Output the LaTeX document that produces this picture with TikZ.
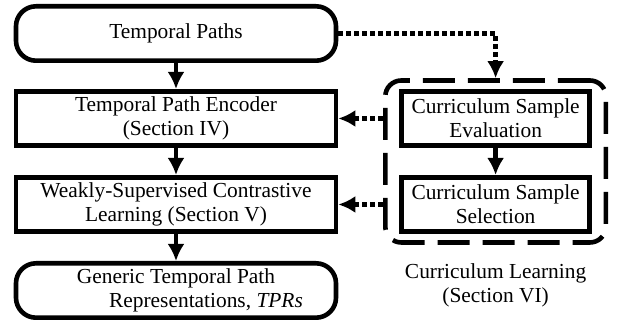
\documentclass[tikz,border=0pt]{standalone}
\usepackage{fontspec}
\setmainfont{Liberation Serif}
\usetikzlibrary{positioning, fit, arrows.meta}

\begin{document}
\begin{tikzpicture}[
                blk/.style={draw, line width=2.3pt, minimum width=160pt, minimum height=27.2pt,
                  align=center, inner sep=1pt, font=\rmfamily\fontsize{10.7}{12}\selectfont},
                rblk/.style={blk, rounded corners=10pt},
                cblk/.style={blk, minimum width=94pt},
                region/.style={draw, line width=2.3pt, dash pattern=on 16pt off 6.5pt,
                  rounded corners=8pt, inner xsep=7pt, inner ysep=4.25pt},
                flow/.style={line width=2.3pt, -{Latex[length=8.5pt,width=8.5pt]}},
                dflow/.style={flow, dash pattern=on 2.5pt off 1.5pt} % short dashes
                ]
                \useasboundingbox (0,0) rectangle (310.5pt,-162pt);
                \node [rblk] (tp) at (88pt,-16.75pt) {Temporal Paths};
                \node [below=13pt of tp, blk] (enc) {Temporal Path Encoder\\(Section IV)};
                \node [below=13.5pt of enc, blk] (wsc) {Weakly-Supervised Contrastive\\Learning (Section V)};
                \node [below=13.5pt of wsc, rblk] (gen) {Generic Temporal Path\\\hspace*{30pt}Representations, \textit{TPRs}};
                \node [right=30.5pt of enc, cblk] (cse) {Curriculum Sample\\Evaluation};
                \node [below=13.5pt of cse, cblk] (css) {Curriculum Sample\\Selection};
                \node [fit=(cse)(css), region] (cl) {};
                \node [below=9pt of cl, align=center, inner sep=0pt,
                  font=\rmfamily\fontsize{10.7}{12}\selectfont] (cllab) {Curriculum Learning\\(Section VI)};
                \draw [flow] (tp) -- (enc);
                \draw [flow] (enc) -- (wsc);
                \draw [flow] (wsc) -- (gen);
                \draw [flow] (cse) -- (css);
                \draw [dflow] (tp.east) -| (cl.north);
                \draw [dflow] (cl.west |- enc.east) -- (enc.east);
                \draw [dflow] (cl.west |- wsc.east) -- (wsc.east);
\end{tikzpicture}
\end{document}
